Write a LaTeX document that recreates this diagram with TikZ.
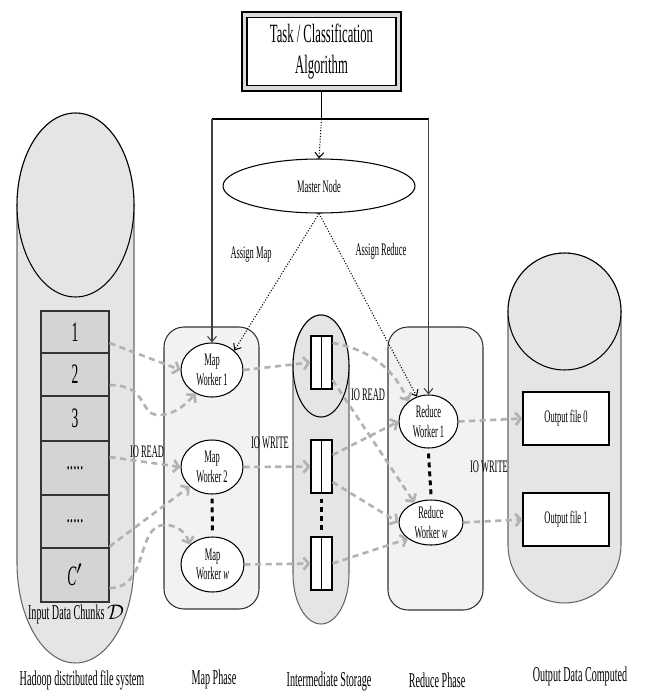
\documentclass[tikz,border=0pt]{standalone}
\usepackage{fontspec}
\setmainfont{Liberation Serif}[FakeStretch=0.48]
\usetikzlibrary{arrows.meta,shapes.geometric,calc}

\newcommand{\chunkdots}{.....}
\tikzset{
  chunk/.style={draw=black!80, fill=black!17, minimum width=1.36cm, inner sep=0pt, font=\fontsize{16}{18}\selectfont},
  worker/.style={ellipse, draw, fill=white, inner sep=0pt, align=center, font=\fontsize{10}{11}\selectfont},
  store/.style={draw, fill=white, minimum width=0.42cm, minimum height=1.06cm, inner sep=0pt},
  outfile/.style={draw, fill=white, minimum width=1.72cm, minimum height=1.06cm, font=\fontsize{10}{11}\selectfont},
  panel/.style={draw=black!80, fill=black!5, rounded corners=0.4cm},
  drum/.style={draw=black!60, fill=black!10},
  flow/.style={draw=black!30, line width=1.5pt, dash pattern=on 3.5pt off 2.5pt, -{Straight Barb[length=3pt,width=7pt]}},
  control/.style={draw=black!75, -{Straight Barb[length=3pt,width=5pt]}},
  assign/.style={densely dotted, -{Straight Barb[length=3pt,width=5pt]}},
  vdots/.style={line width=1.7pt, dash pattern=on 2.8pt off 2.3pt},
  lbl/.style={font=\fontsize{10}{11}\selectfont},
  phase/.style={font=\fontsize{12}{14}\selectfont}
}

\begin{document}
\begin{tikzpicture}[x=0.02cm, y=-0.02cm, line width=0.6pt]
\useasboundingbox (0,0) rectangle (645,693);

% Storage drums and phase panels
\path[drum] (17,205) -- (17,563) arc[start angle=180, end angle=360, x radius=1.17cm, y radius=2cm]
  -- (134,205) arc[start angle=0, end angle=180, x radius=1.17cm, y radius=1.84cm] -- cycle;
\draw[fill=black!10] (75.5,205) ellipse [x radius=1.17cm, y radius=1.84cm];
\path[drum] (293,366) -- (293,574) arc[start angle=180, end angle=360, x radius=0.56cm, y radius=1cm]
  -- (349,366) arc[start angle=0, end angle=180, x radius=0.56cm, y radius=1.02cm] -- cycle;
\draw[fill=black!10] (321,366) ellipse [x radius=0.56cm, y radius=1.02cm];
\path[drum] (508,311.5) -- (508,545) arc[start angle=180, end angle=360, x radius=1.13cm, y radius=1.16cm]
  -- (621,311.5) arc[start angle=0, end angle=180, x radius=1.13cm, y radius=1.17cm] -- cycle;
\draw[fill=black!10] (564.5,311.5) ellipse [x radius=1.13cm, y radius=1.17cm];
\draw[panel] (164,327) rectangle (259,609);
\draw[panel] (388,327) rectangle (483,610);

% Input chunks
\foreach \t/\b/\l/\n in {311/353/1/c1, 353/396/2/c2, 396/441/3/c3, 441/495/\chunkdots/c4, 495/548/\chunkdots/c5, 548/602/\textit{C}$'$/c6}
  \node[chunk, minimum height={(\b-\t)*0.02cm}] (\n) at (75,{(\t+\b)/2}) {\l};
\node[phase] (chunkcap) at (76,614) {Input Data Chunks $\mathcal{D}$};

% Task and master
\draw[fill=black!15, line width=0.8pt] (242,12) rectangle (401,91);
\node[draw, fill=white, minimum width=2.98cm, minimum height=1.18cm, align=center,
  font=\fontsize{15}{18}\selectfont] (task) at (321.5,51.5) {Task / Classification\\Algorithm};
\coordinate (taskout) at (321.5,91);
\coordinate (hub) at (321.5,119);
\coordinate (hubL) at (212,119);
\coordinate (hubR) at (428.5,119);
\node[ellipse, draw, fill=white, minimum width=3.84cm, minimum height=1.08cm, lbl] (master) at (319,186) {Master Node};

% Workers
\node[worker, minimum width=1.24cm, minimum height=1.08cm] (mw1) at (212,370) {Map\\Worker 1};
\node[worker, minimum width=1.24cm, minimum height=1.08cm] (mw2) at (212,467) {Map\\Worker 2};
\node[worker, minimum width=1.26cm, minimum height=1.1cm] (mww) at (212.5,564.5) {Map\\Worker \textit{w}};
\node[worker, minimum width=1.18cm, minimum height=1.06cm] (rw1) at (428.5,421.5) {Reduce\\Worker 1};
\node[worker, minimum width=1.28cm, minimum height=0.9cm] (rww) at (431,522.5) {Reduce\\Worker \textit{w}};

% Intermediate buffers and outputs
\node[store] (box1) at (321.5,362.5) {};
\node[store] (box2) at (321.5,466.5) {};
\node[store] (box3) at (321.5,563.5) {};
\foreach \s in {box1,box2,box3}
  \draw (\s.north) -- (\s.south);
\node[outfile] (out0) at (566,418.5) {Output file 0};
\node[outfile] (out1) at (566,519.5) {Output file 1};

\draw[vdots] ([yshift=-0.08cm]mw2.south) -- ([yshift=0.08cm]mww.north);
\draw[vdots] ([yshift=-0.1cm]box2.south) -- ([yshift=0.1cm]box3.north);
\draw[vdots] ([yshift=-0.1cm]rw1.south) -- ([yshift=0.1cm]rww.north);

% Control lines
\draw (taskout) -- (hub);
\draw[line width=1.2pt] (hubL) -- (hubR);
\draw[control] (hubL) -- (mw1.north);
\draw[control] (hubR) -- (rw1.north);
\draw[assign] (hub) -- (master.north);
\draw[assign] (master.south) -- (mw1.north east);
\draw[assign] (master.south) -- (rw1.115);
\node[lbl] (amap) at (251,255) {Assign Map};
\node[lbl] (ared) at (381,251) {Assign Reduce};

% Data flow
\draw[flow] ([yshift=-0.22cm]c1.east) -- (mw1.west);
\draw[flow] ([yshift=-0.21cm]c2.east) .. controls (150,385) and (138,416) .. (160,415)
  .. controls (176,414) and (186,404) .. (mw1.235);
\draw[flow] ([yshift=0.22cm]c4.east) -- (mw2.west);
\draw[flow] ([yshift=0.04cm]c5.south east) -- (mw2.south west);
\draw[flow] ([yshift=-0.26cm]c6.east) .. controls (150,588) and (135,525) .. (165,525)
  .. controls (178,525) and (186,533) .. (mww.north west);
\node[lbl] (ioread1) at (147,452) {IO READ};

\draw[flow] (mw1.east) -- (box1.west);
\draw[flow] (mw2.east) -- (box2.west);
\draw[flow] (mww.east) -- (box3.west);
\node[lbl] (iowrite1) at (270,443) {IO WRITE};

\draw[flow] ([yshift=0.39cm]box1.east) to[out=-10, in=115] (rw1.135);
\draw[flow] ([yshift=-0.35cm]box1.east) -- (rww.130);
\draw[flow] ([yshift=0.23cm]box2.east) -- (rw1.west);
\draw[flow] ([yshift=-0.31cm]box2.east) -- (rww.west);
\draw[flow] (box3.east) -- (rww.215);
\node[lbl] (ioread2) at (368,395) {IO READ};

\draw[flow] (rw1.east) -- (out0.west);
\draw[flow] (rww.east) -- (out1.west);
\node[lbl] (iowrite2) at (489,467) {IO WRITE};

% Phase captions
\node[phase] (hdfs) at (82,680) {Hadoop distributed file system};
\node[phase] (mapph) at (214,679) {Map Phase};
\node[phase] (interph) at (329,681) {Intermediate Storage};
\node[phase] (redph) at (437,680) {Reduce Phase};
\node[phase] (outph) at (580,676) {Output Data Computed};
\end{tikzpicture}
\end{document}
